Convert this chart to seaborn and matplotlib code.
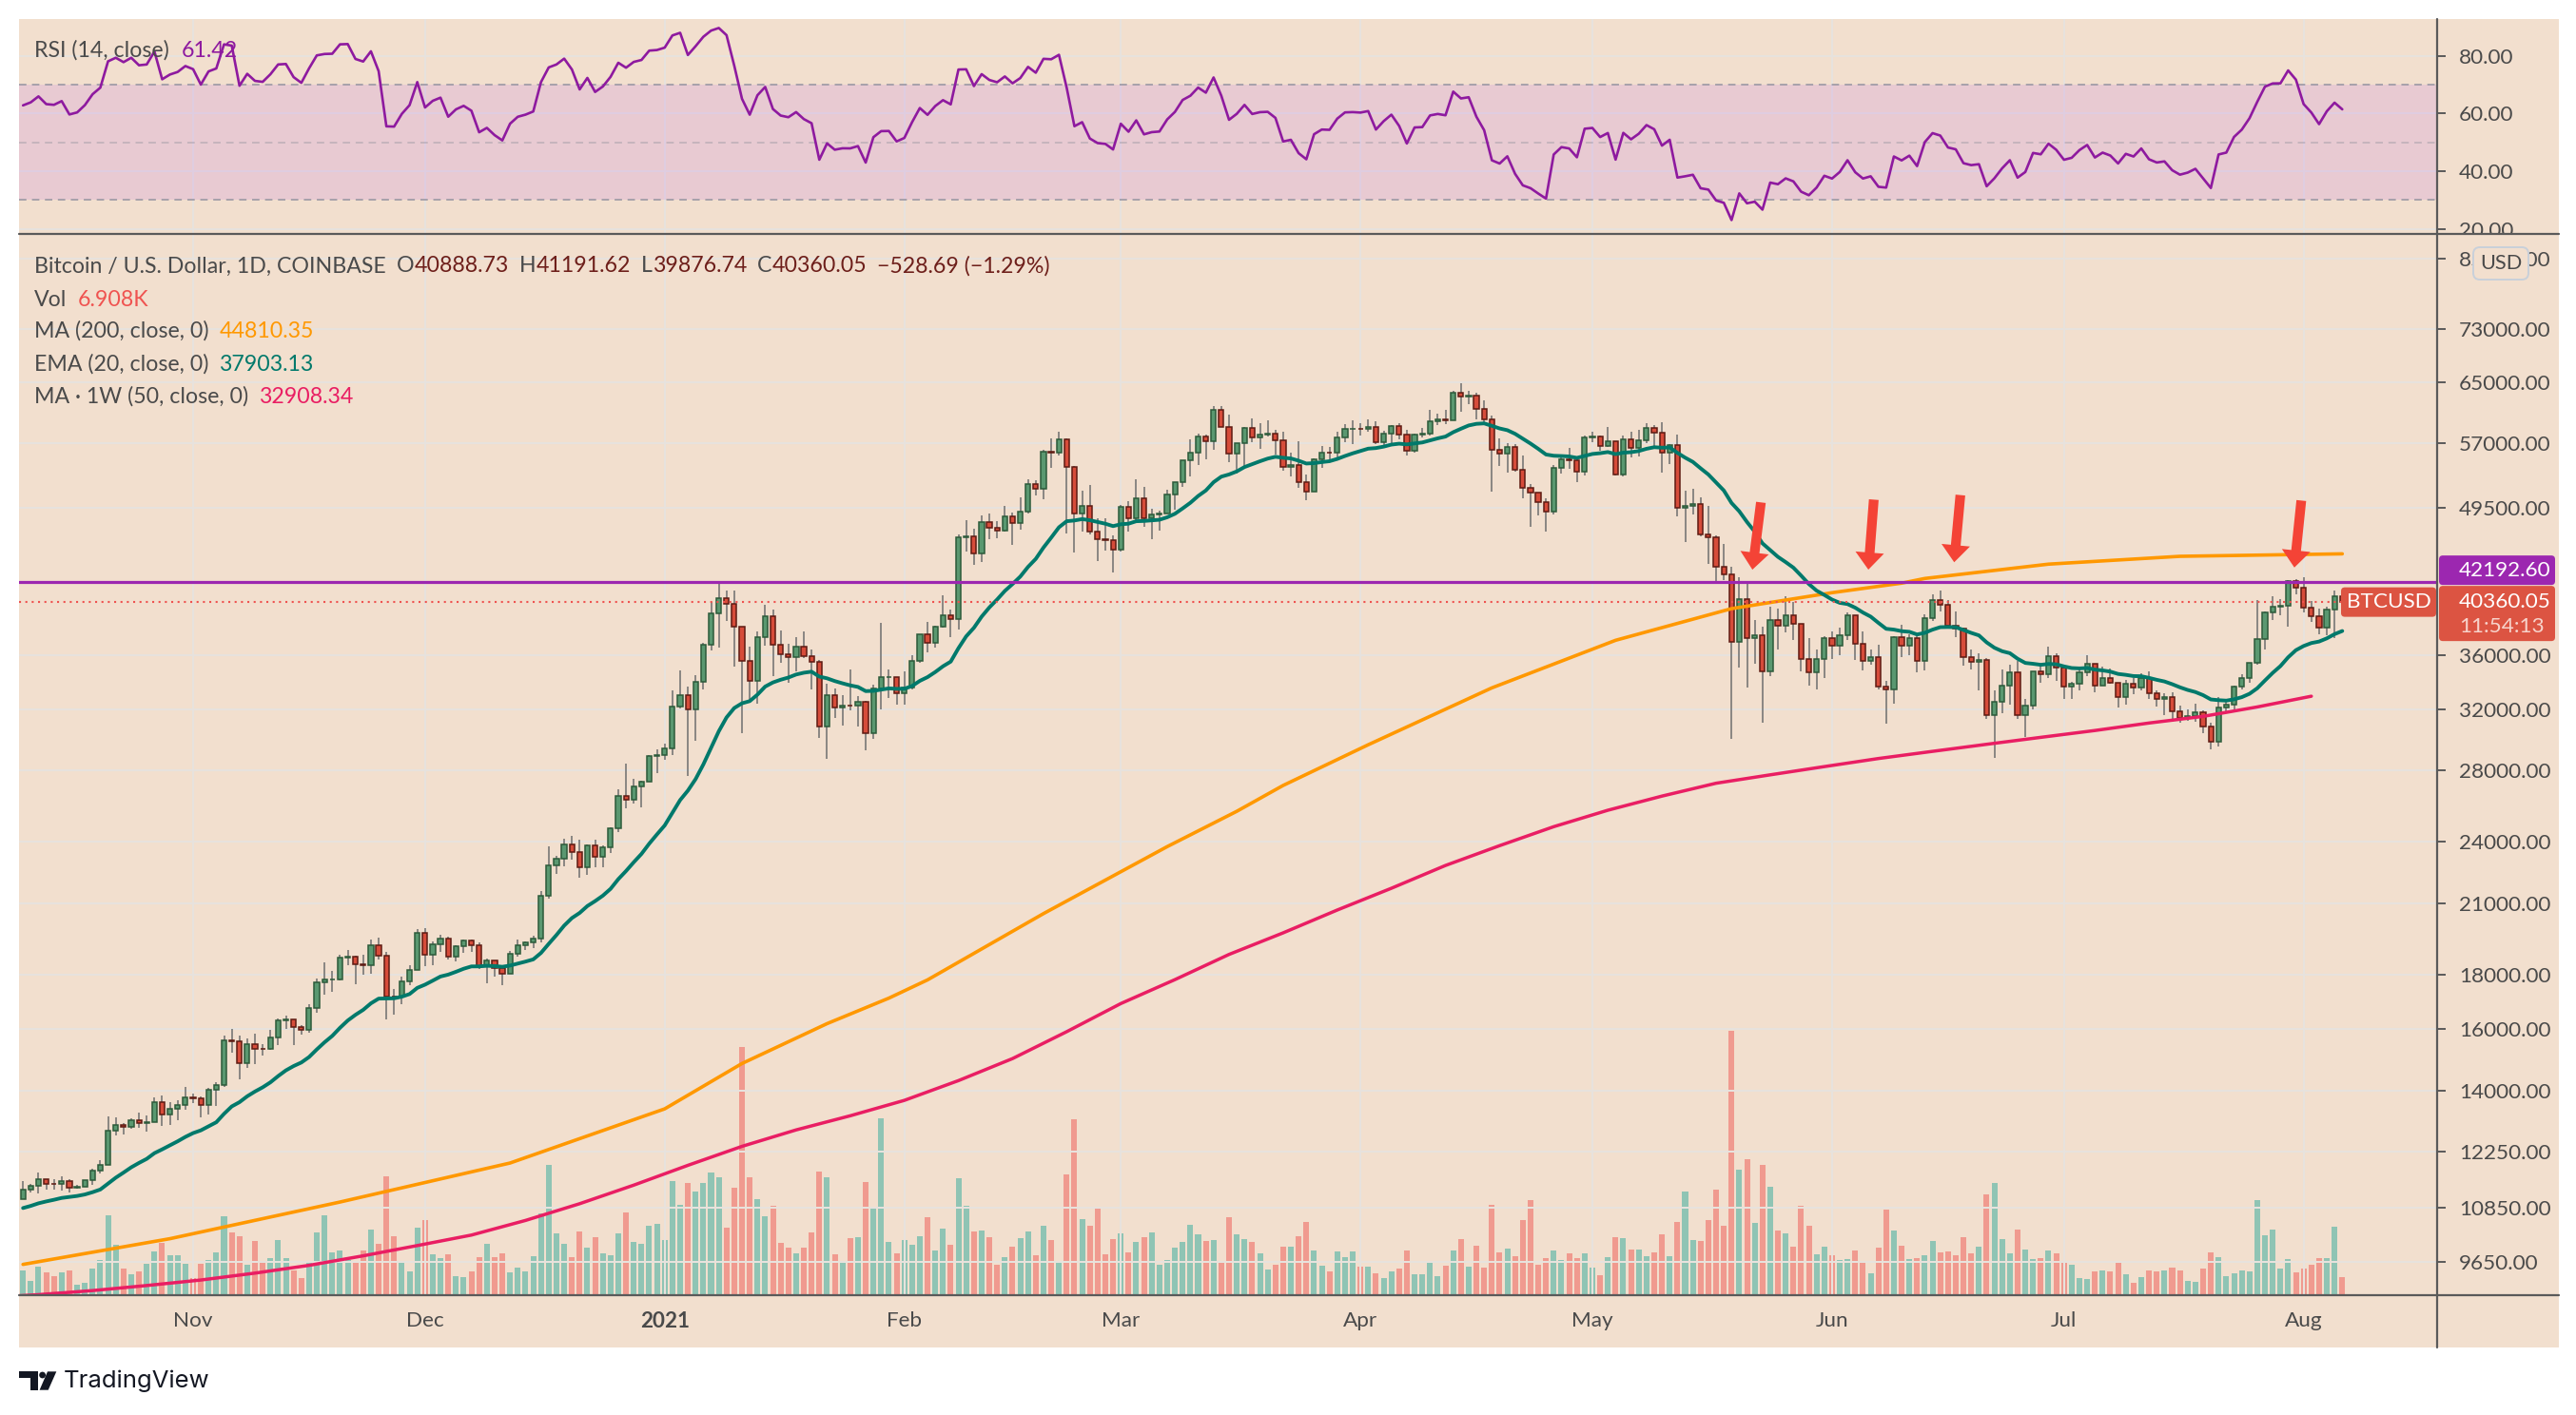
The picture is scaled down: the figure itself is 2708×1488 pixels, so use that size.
import numpy as np
import pandas as pd
import matplotlib
matplotlib.use("Agg")
import matplotlib.pyplot as plt
import seaborn as sns
from matplotlib.patches import Rectangle, FancyBboxPatch, Polygon, Circle
from matplotlib.lines import Line2D
from matplotlib.transforms import IdentityTransform
from matplotlib.ticker import NullLocator

# ------------------------------
# data (BTC/USD daily, Coinbase)
# ------------------------------
start_date = "2020-10-10"

# (open, high, low, close) per day
oct_2020 = [
    (11060, 11490, 11050, 11300), (11300, 11440, 11210, 11380), (11380, 11720, 11200, 11540),
    (11540, 11560, 11300, 11430), (11430, 11550, 11280, 11420), (11420, 11630, 11270, 11505),
    (11505, 11540, 11220, 11330), (11330, 11400, 11310, 11370), (11370, 11490, 11360, 11515),
    (11515, 11820, 11410, 11755), (11755, 12030, 11690, 11915), (11915, 13220, 11900, 12820),
    (12820, 13200, 12700, 12990), (12990, 13030, 12720, 12935), (12935, 13170, 12890, 13130),
    (13130, 13350, 12900, 13040), (13040, 13250, 12800, 13070), (13070, 13790, 13060, 13650),
    (13650, 13860, 12950, 13280), (13280, 13650, 12990, 13460), (13460, 13690, 13130, 13560),
    (13560, 14100, 13430, 13800),
]
nov_2020 = [
    (13800, 13890, 13620, 13760), (13760, 13820, 13200, 13560), (13560, 14070, 13300, 14030),
    (14030, 14250, 13530, 14150), (14150, 15770, 14100, 15590), (15590, 15980, 15200, 15570),
    (15570, 15770, 14350, 14840), (14840, 15660, 14710, 15480), (15480, 15840, 14830, 15330),
    (15330, 15470, 15100, 15310), (15310, 15950, 15280, 15700), (15700, 16350, 15460, 16290),
    (16290, 16480, 15980, 16320), (16320, 16330, 15430, 16070), (16070, 16130, 15810, 15960),
    (15960, 16880, 15880, 16730), (16730, 17860, 16560, 17680), (17680, 18480, 17220, 17800),
    (17800, 18150, 17350, 17820), (17820, 18800, 17760, 18680), (18680, 18970, 18360, 18710),
    (18710, 18750, 17620, 18420), (18420, 18780, 18000, 18370), (18370, 19420, 18020, 19160),
    (19160, 19490, 18580, 18740), (18740, 18920, 16330, 17150), (17150, 17460, 16500, 17140),
    (17140, 17900, 16880, 17730), (17730, 18350, 17570, 18180), (18180, 19870, 18180, 19700),
]
dec_2020 = [
    (19700, 19920, 18330, 18770), (18770, 19320, 18350, 19220), (19220, 19600, 18900, 19440),
    (19440, 19530, 18580, 18700), (18700, 19180, 18520, 19150), (19150, 19420, 18870, 19370),
    (19370, 19420, 18910, 19190), (19190, 19300, 18220, 18330), (18330, 18640, 17650, 18550),
    (18550, 18570, 17910, 18250), (18250, 18290, 17570, 18030), (18030, 18950, 18020, 18810),
    (18810, 19420, 18720, 19170), (19170, 19350, 19000, 19280), (19280, 19570, 19050, 19440),
    (19440, 21560, 19300, 21350), (21350, 23770, 21230, 22800), (22800, 23290, 22380, 23140),
    (23140, 24170, 22780, 23860), (23860, 24300, 23080, 23480), (23480, 24100, 22200, 22730),
    (22730, 23860, 22350, 23820), (23820, 24120, 22700, 23240), (23240, 23800, 22720, 23730),
    (23730, 24790, 23440, 24700), (24700, 26870, 24500, 26490), (26490, 28420, 25800, 26280),
    (26280, 27500, 26100, 27080), (27080, 27400, 25880, 27360), (27360, 28990, 27320, 28880),
    (28880, 29320, 27880, 28990),
]
jan_2021 = [
    (28990, 29680, 28690, 29410), (29410, 33300, 28950, 32200), (32200, 34810, 32020, 33000),
    (33000, 33620, 27700, 31990), (31990, 34450, 29900, 33950), (33950, 36940, 33400, 36800),
    (36800, 40370, 36350, 39370), (39370, 41950, 36570, 40670), (40670, 41380, 38720, 40240),
    (40240, 41350, 35110, 38240), (38240, 38270, 30400, 35550), (35550, 36620, 32530, 34010),
    (34010, 37850, 32400, 37390), (37390, 40100, 36720, 39150), (39150, 39750, 34400, 36770),
    (36770, 37950, 35400, 36010), (36010, 36860, 33850, 35820), (35820, 37430, 34720, 36630),
    (36630, 37850, 35750, 35900), (35900, 36420, 33400, 35470), (35470, 35600, 30070, 30830),
    (30830, 33830, 28750, 33000), (33000, 33460, 31390, 32080), (32080, 32960, 30860, 32260),
    (32260, 34880, 31940, 32250), (32250, 32920, 30840, 32510), (32510, 32560, 29240, 30400),
    (30400, 33740, 30000, 33450), (33450, 38550, 31950, 34280), (34280, 34890, 32800, 34300),
    (34300, 34330, 32280, 33110),
]
feb_2021 = [
    (33110, 34720, 32300, 33520), (33520, 35980, 33430, 35510), (35510, 37660, 35390, 37620),
    (37620, 38700, 36210, 36940), (36940, 38310, 36580, 38290), (38290, 40950, 38220, 39250),
    (39250, 39720, 37380, 38870), (38870, 46750, 38010, 46450), (46450, 48200, 45020, 46510),
    (46510, 47320, 43730, 44840), (44840, 48680, 44000, 47990), (47990, 48900, 46250, 47380),
    (47380, 48100, 46350, 47150), (47150, 49720, 47070, 48580), (48580, 49000, 45700, 47930),
    (47930, 50620, 47200, 49150), (49150, 52620, 48950, 52120), (52120, 52540, 50900, 51580),
    (51580, 56200, 50440, 55890), (55890, 57510, 54000, 55850), (55850, 58350, 55500, 57410),
    (57410, 57550, 46840, 54090), (54090, 54180, 44900, 48890), (48890, 51380, 47000, 49700),
    (49700, 52050, 46720, 47060), (47060, 48400, 44100, 46270), (46270, 48360, 45120, 46140),
    (46140, 46600, 43000, 45240),
]
mar_2021 = [
    (45240, 49800, 45070, 49610), (49610, 50200, 47050, 48380), (48380, 52650, 48150, 50540),
    (50540, 51800, 47500, 48370), (48370, 49450, 46300, 48760), (48760, 49200, 47080, 48870),
    (48870, 51450, 48870, 50970), (50970, 52400, 49300, 52390), (52390, 54900, 51850, 54890),
    (54890, 57400, 53030, 55850), (55850, 58150, 54300, 57800), (57800, 58050, 55050, 57230),
    (57230, 61800, 56100, 61190), (61190, 61700, 59000, 59000), (59000, 60650, 54700, 55640),
    (55640, 56950, 53300, 56910), (56910, 58980, 54200, 58930), (58930, 60100, 57050, 57650),
    (57650, 59500, 56300, 58030), (58030, 59900, 57850, 58100), (58100, 58650, 55550, 57350),
    (57350, 58450, 53700, 54080), (54080, 55850, 53000, 54340), (54340, 57200, 51700, 52300),
    (52300, 53250, 50300, 51300), (51300, 55100, 51300, 55030), (55030, 56600, 54000, 55820),
    (55820, 56550, 54700, 55780), (55780, 58400, 54900, 57630), (57630, 59400, 57050, 58730),
    (58730, 59800, 56900, 58780),
]
apr_2021 = [
    (58780, 59480, 57930, 58730), (58730, 60000, 58450, 58960), (58960, 59770, 56900, 57060),
    (57060, 58480, 56500, 58200), (58200, 59300, 56800, 59130), (59130, 59460, 57400, 57990),
    (57990, 58650, 55500, 56000), (56000, 58150, 55750, 58090), (58090, 58870, 57700, 58140),
    (58140, 61200, 57900, 59770), (59770, 60700, 59300, 59980), (59980, 61200, 59380, 59860),
    (59860, 63800, 59800, 63580), (63580, 64850, 61000, 62960), (62960, 63800, 62020, 63160),
    (63160, 63520, 60000, 61380), (61380, 62500, 59600, 60000), (60000, 60420, 51300, 56150),
    (56150, 57500, 54200, 55660), (55660, 57000, 53400, 56470), (56470, 56800, 53600, 53800),
    (53800, 55450, 50500, 51700), (51700, 52100, 47500, 51150), (51150, 51200, 48700, 50100),
    (50100, 50540, 47050, 49070), (49070, 54300, 48800, 54030), (54030, 55450, 53300, 55060),
    (55060, 56400, 53900, 54860), (54860, 55200, 52350, 53560), (53560, 57950, 53100, 57700),
]
may_2021 = [
    (57700, 58450, 57050, 57830), (57830, 57950, 56050, 56610), (56610, 58950, 56500, 57200),
    (57200, 57200, 53100, 53250), (53250, 57900, 52950, 57450), (57450, 58350, 55250, 56420),
    (56420, 58650, 55400, 57360), (57360, 59500, 56950, 58860), (58860, 59250, 56250, 58280),
    (58280, 59550, 53450, 55860), (55860, 56900, 54400, 56750), (56750, 58000, 48600, 49500),
    (49500, 51350, 46000, 49690), (49690, 51550, 48850, 49900), (49900, 50700, 46550, 46760),
    (46760, 49750, 43800, 46430), (46430, 46650, 42100, 43560), (43560, 45800, 42300, 42900),
    (42900, 43550, 30000, 37000), (37000, 42600, 35000, 40630), (40630, 42250, 33500, 37300),
    (37300, 38850, 35300, 37530), (37530, 38300, 31100, 34700), (34700, 39950, 34400, 38800),
    (38800, 39800, 36450, 38330), (38330, 40900, 37800, 39240), (39240, 40400, 37200, 38470),
    (38470, 38500, 34750, 35680), (35680, 37300, 33650, 34650), (34650, 36450, 33400, 35680),
    (35680, 37500, 34200, 37320),
]
jun_2021 = [
    (37320, 37900, 35700, 36690), (36690, 38200, 35950, 37570), (37570, 39450, 37200, 39190),
    (39190, 39250, 35600, 36850), (36850, 37900, 34800, 35520), (35520, 36450, 35250, 35800),
    (35800, 36800, 33400, 33580), (33580, 34050, 31000, 33400), (33400, 37500, 32400, 37390),
    (37390, 38400, 35800, 36690), (36690, 37650, 35950, 37340), (37340, 37450, 34650, 35550),
    (35550, 39300, 34800, 39020), (39020, 41050, 38750, 40520), (40520, 41350, 39550, 40160),
    (40160, 40500, 38120, 38350), (38350, 39550, 37400, 38070), (38070, 38200, 35150, 35820),
    (35820, 36450, 34850, 35490), (35490, 36150, 33350, 35600), (35600, 35750, 31300, 31600),
    (31600, 33300, 28800, 32510), (32510, 34850, 31700, 33680), (33680, 35250, 32300, 34660),
    (34660, 35500, 31300, 31600), (31600, 32700, 30150, 32270), (32270, 34700, 32000, 34700),
    (34700, 35250, 33900, 34490), (34490, 36650, 34250, 35900), (35900, 36100, 34000, 35040),
]
jul_2021 = [
    (35040, 35050, 32700, 33570), (33570, 33950, 32700, 33800), (33800, 34950, 33350, 34690),
    (34690, 35950, 34350, 35290), (35290, 35300, 33200, 33690), (33690, 35100, 33650, 34220),
    (34220, 34950, 33800, 33860), (33860, 33900, 32100, 32880), (32880, 34100, 32300, 33810),
    (33810, 34250, 33050, 33510), (33510, 34600, 33350, 34260), (34260, 34700, 32700, 33090),
    (33090, 33350, 32200, 32730), (32730, 33100, 31600, 32820), (32820, 33200, 31150, 31880),
    (31880, 32250, 31050, 31390), (31390, 31950, 31200, 31530), (31530, 32400, 31150, 31780),
    (31780, 31900, 30400, 30840), (30840, 31050, 29300, 29790), (29790, 32850, 29500, 32140),
    (32140, 32600, 31700, 32290), (32290, 33650, 31800, 33600), (33600, 34500, 33400, 34260),
    (34260, 35400, 33850, 35380), (35380, 40550, 35250, 37260), (37260, 39550, 36400, 39470),
    (39470, 40900, 38800, 39990), (39990, 40650, 39250, 40010), (40010, 42300, 38300, 42240),
    (42240, 42400, 41050, 41630),
]
aug_2021 = [
    (41630, 42600, 39450, 39850), (39850, 40450, 38700, 39170), (39170, 39800, 37650, 38200),
    (38200, 39950, 37550, 39740), (39740, 41350, 37350, 40890),
    (40888.73, 41191.62, 39876.74, 40360.05),
]

# daily volume, thousand BTC
vol_oct = [9.5, 5.4, 11.0, 8.7, 7.3, 8.7, 9.5, 3.9, 4.7, 10.2, 13.5, 31.1, 19.4, 10.2, 8.0,
           9.1, 12.1, 16.9, 20.2, 15.4, 15.4, 12.1]
vol_nov = [6.5, 12.1, 13.5, 16.5, 30.5, 24.3, 23.0, 11.9, 21.1, 13.2, 14.5, 21.5, 14.5, 9.5, 6.5,
           13.2, 24.3, 31.1, 16.5, 17.2, 13.5, 13.0, 17.2, 25.4, 20.0, 46.2, 22.8, 13.2, 9.2, 26.2]
vol_dec = [29.2, 15.8, 14.5, 15.8, 7.5, 7.0, 9.2, 14.7, 20.0, 14.7, 16.4, 8.9, 10.6, 9.2, 15.1,
           31.9, 50.7, 23.9, 20.0, 14.7, 24.7, 18.3, 22.6, 16.2, 15.5, 24.1, 32.2, 20.7, 20.0,
           26.8, 27.6]
vol_jan = [21.3, 44.3, 35.0, 43.5, 40.1, 43.5, 47.5, 46.0, 26.1, 41.6, 96.3, 45.7, 37.5, 30.5,
           34.6, 20.3, 18.3, 16.1, 18.3, 24.3, 47.9, 45.7, 15.8, 13.2, 22.0, 22.4, 43.8, 34.2,
           68.6, 20.6, 16.1]
vol_feb = [21.3, 19.4, 22.8, 30.2, 17.2, 25.7, 19.4, 45.3, 34.6, 24.6, 25.0, 22.4, 11.7, 14.6,
           18.7, 22.0, 24.6, 15.4, 26.8, 21.3, 13.2, 46.8, 68.2, 29.4, 26.8, 34.2, 15.8, 21.7]
vol_mar = [23.9, 16.5, 20.6, 22.4, 24.3, 11.7, 13.5, 18.3, 20.6, 27.2, 23.5, 20.9, 21.3, 13.2,
           30.2, 23.5, 21.7, 20.6, 16.1, 9.8, 11.7, 18.7, 18.7, 22.8, 28.3, 17.2, 11.3, 9.1,
           16.9, 14.6, 16.9]
vol_apr = [11.0, 11.0, 8.4, 6.5, 9.1, 10.2, 17.2, 8.0, 8.0, 12.4, 7.3, 11.3, 17.2, 21.7, 11.0,
           19.1, 10.6, 35.0, 16.5, 18.0, 15.0, 29.1, 36.8, 11.7, 14.3, 17.2, 13.5, 16.1, 14.3, 16.1]
vol_may = [10.6, 7.6, 14.6, 22.4, 22.0, 17.6, 17.6, 15.0, 16.5, 23.5, 15.0, 28.3, 40.1, 21.3,
           20.9, 29.1, 41.2, 26.8, 102.9, 48.6, 52.7, 27.9, 50.5, 42.0, 25.0, 23.9, 18.7, 34.6,
           26.8, 15.8, 18.7]
vol_jun = [15.4, 13.5, 13.9, 17.2, 13.2, 8.4, 18.3, 33.1, 25.0, 19.1, 13.9, 14.3, 15.4, 20.9,
           16.5, 16.9, 15.4, 22.4, 16.1, 18.7, 39.0, 43.5, 21.7, 16.1, 25.4, 17.6, 13.9, 14.3,
           17.2, 16.1]
vol_jul = [12.4, 11.7, 6.5, 6.3, 9.2, 9.6, 9.2, 13.3, 8.1, 4.8, 7.0, 9.6, 9.2, 9.6, 10.7, 9.6,
           5.5, 5.2, 10.3, 16.6, 14.8, 7.4, 8.5, 9.6, 9.2, 36.9, 23.3, 25.5, 10.3, 14.0, 8.9]
vol_aug = [10.3, 11.8, 14.4, 14.4, 26.6, 6.908]

# MA (200)
ma200_dates = ["2020-10-10", "2020-10-29", "2020-11-20", "2020-12-12", "2021-01-01",
               "2021-01-11", "2021-01-22", "2021-01-30", "2021-02-04", "2021-02-19",
               "2021-03-07", "2021-03-16", "2021-03-22", "2021-04-02", "2021-04-18",
               "2021-05-04", "2021-05-19", "2021-06-01", "2021-06-10", "2021-06-13",
               "2021-06-29", "2021-07-16", "2021-08-06"]
ma200_vals = [9600, 10150, 10990, 11960, 13450, 14840, 16180, 17100, 17790, 20540, 23750,
              25640, 27120, 29620, 33510, 37150, 39790, 41190, 42050, 42480, 43820, 44570,
              44810]

# MA 1W (50), one point per weekly bar
ma1w_first_week = "2020-10-05"
ma1w_vals = [8930, 8990, 9070, 9170, 9280, 9420, 9580, 9780, 10000, 10230, 10560, 10950,
             11400, 11900, 12400, 12850, 13250, 13700, 14300, 15000, 15900, 16900, 17800,
             18800, 19700, 20700, 21700, 22800, 23800, 24800, 25700, 26500, 27250, 27750,
             28250, 28750, 29200, 29650, 30100, 30550, 31050, 31500, 32150, 32908]

prev_close = 11060          # close of the day before the first candle
ema_seed = 10800            # EMA(20) level at the left edge
rsi_seed_gain, rsi_seed_loss = 125.0, 85.0

level_line = 42192.60
arrow_tip_x = [223.7, 238.7, 249.8, 293.8]
arrow_tail_x = [224.8, 239.4, 250.6, 294.7]
arrow_tip_y = [43300, 43300, 44000, 43500]
arrow_tail_y = [50100, 50400, 50900, 50300]

price_ticks = [9650, 10850, 12250, 14000, 16000, 18000, 21000, 24000, 28000, 32000, 36000,
               49500, 57000, 65000, 73000, 85000]
rsi_ticks = [20, 40, 60, 80]

# ------------------------------
# assemble
# ------------------------------
ohlc = np.array(oct_2020 + nov_2020 + dec_2020 + jan_2021 + feb_2021 + mar_2021 + apr_2021 +
                may_2021 + jun_2021 + jul_2021 + aug_2021, dtype=float)
vols = np.array(vol_oct + vol_nov + vol_dec + vol_jan + vol_feb + vol_mar + vol_apr + vol_may +
                vol_jun + vol_jul + vol_aug)
opens, highs, lows, closes = ohlc.T
n = len(closes)
t0 = pd.Timestamp(start_date)
dates = pd.date_range(t0, periods=n, freq="D")
days = np.arange(n)
up = closes >= opens

# indicators, as the chart computes them
ema = []
e = ema_seed
for c in closes:
    e = e + 2.0 / 21.0 * (c - e)
    ema.append(e)
ema = np.array(ema)

rsi = []
ag, al, pc = rsi_seed_gain, rsi_seed_loss, prev_close
for c in closes:
    d = c - pc
    ag = (ag * 13 + max(d, 0)) / 14
    al = (al * 13 + max(-d, 0)) / 14
    rsi.append(100 - 100 / (1 + ag / al))
    pc = c
rsi = np.array(rsi)

ma200_x = np.array([(pd.Timestamp(d) - t0).days for d in ma200_dates])
ma1w_x = (pd.Timestamp(ma1w_first_week) - t0).days + 7 * np.arange(len(ma1w_vals))

month_starts = [d for d in dates if d.day == 1]
month_x = [(d - t0).days for d in month_starts]
month_lbl = ["2021" if d.month == 1 else d.strftime("%b") for d in month_starts]

# ------------------------------
# style
# ------------------------------
sns.set_theme(style="white")
plt.rcParams["font.family"] = ["Lato", "DejaVu Sans"]

W, H = 2708, 1488
BG = "#f2dfce"
GRID = "#e7e2dd"
AXC = "#5a5a5a"
TXT = "#4a4a4a"
UPF, UPE = "#5a9870", "#2c5a3a"
DNF, DNE = "#d64c3a", "#5e1a12"
WICK = "#6e6e6e"
EMA_C, MA_C, MAW_C = "#00796b", "#ff9800", "#e91e63"
RSI_C = "#8e1a9f"
PURPLE = "#9c27b0"
RED_LBL = "#dc5442"
ARROW_C = "#f44336"
FS = 16.2       # price scale / time scale
LFS = 16.7      # pane legends

PX = IdentityTransform()


def P(x, y):
    return (x, H - y)


fig = plt.figure(figsize=(W / 100, H / 100), dpi=100)
fig.patch.set_facecolor("white")
fig.add_artist(Rectangle(P(20, 1417), 2670, 1397, transform=PX, fc=BG, ec="none", zorder=-10))

L, R, TOP, SEP, BOT = 20, 2562, 20, 246, 1362
ax_rsi = fig.add_axes([L / W, 1 - 245 / H, (R - L) / W, (245 - TOP) / H])
ax_p = fig.add_axes([L / W, 1 - BOT / H, (R - L) / W, (BOT - 247) / H])
ax_v = ax_p.twinx()
ax_p.set_zorder(2)
ax_v.set_zorder(1)
for a in (ax_rsi, ax_p, ax_v):
    a.patch.set_visible(False)
    for s in a.spines.values():
        s.set_visible(False)

xlim = ((L - 24.2) / 8.127, (R - 24.2) / 8.127)

# ------------------------------
# volume
# ------------------------------
ax_v.bar(days, vols, width=0.74, color=np.where(up, "#8fc4b4", "#f09a8f"), linewidth=0)
ax_v.set_ylim(0, 412)
ax_v.set_xlim(*xlim)
ax_v.axis("off")

# ------------------------------
# price pane
# ------------------------------
ax_p.set_yscale("log")
ax_p.set_axisbelow(True)
ax_p.grid(True, color=GRID, linewidth=1.45)
ax_p.vlines(days, lows, highs, color=WICK, linewidth=1.1, zorder=2)
ax_p.bar(days, np.abs(closes - opens), bottom=np.minimum(opens, closes), width=0.64,
         color=np.where(up, UPF, DNF), edgecolor=np.where(up, UPE, DNE), linewidth=1.1, zorder=3)

sns.lineplot(x=ma200_x, y=ma200_vals, ax=ax_p, color=MA_C, linewidth=2.6, zorder=4, legend=False)
sns.lineplot(x=ma1w_x, y=ma1w_vals, ax=ax_p, color=MAW_C, linewidth=2.5, zorder=4, legend=False)
sns.lineplot(x=days, y=ema, ax=ax_p, color=EMA_C, linewidth=2.8, zorder=4, legend=False)

ax_p.axhline(level_line, color=PURPLE, linewidth=2.3, zorder=5)
ax_p.axhline(closes[-1], color="#ef5350", linewidth=1.5, linestyle=(0, (1, 2.2)), zorder=5)

for tx, ty, sx, sy in zip(arrow_tip_x, arrow_tip_y, arrow_tail_x, arrow_tail_y):
    ax_p.annotate("", xy=(tx, ty), xytext=(sx, sy),
                  arrowprops=dict(arrowstyle="simple,head_length=0.6,head_width=1.0,tail_width=0.34",
                                  mutation_scale=21.6, color=ARROW_C, shrinkA=0, shrinkB=0,
                                  linewidth=0), zorder=6)

ax_p.set_xlim(*xlim)
ax_p.set_ylim(8980, 89480)
ax_p.set_yticks(price_ticks)
ax_p.set_yticklabels([f"{v:.2f}" for v in price_ticks])
ax_p.yaxis.set_minor_locator(NullLocator())
ax_p.yaxis.tick_right()
ax_p.set_xticks(month_x)
ax_p.set_xticklabels(month_lbl)
ax_p.tick_params(axis="y", length=6.5, width=1.4, color=AXC, pad=10, labelsize=FS, labelcolor=TXT)
ax_p.tick_params(axis="x", length=6.5, width=1.4, color=AXC, pad=6, labelsize=FS, labelcolor=TXT)
for lbl in ax_p.get_xticklabels():
    if lbl.get_text() == "2021":
        lbl.set_fontweight("bold")
ax_p.set_xlabel("")
ax_p.set_ylabel("")

# ------------------------------
# RSI pane
# ------------------------------
ax_rsi.set_axisbelow(True)
ax_rsi.grid(True, color=GRID, linewidth=1.45)
ax_rsi.axhspan(30, 70, color="#9915ff", alpha=0.1, linewidth=0, zorder=1)
for lv, al_ in ((70, 0.85), (50, 0.45), (30, 0.85)):
    ax_rsi.axhline(lv, color="#9b98a3", alpha=al_, linewidth=1.4, dashes=(4, 3), zorder=2)
sns.lineplot(x=days, y=rsi, ax=ax_rsi, color=RSI_C, linewidth=1.9, zorder=3, legend=False)
ax_rsi.set_xlim(*xlim)
ax_rsi.set_ylim(18.6, 92.7)
ax_rsi.set_yticks(rsi_ticks)
ax_rsi.set_yticklabels([f"{v:.2f}" for v in rsi_ticks])
ax_rsi.yaxis.tick_right()
ax_rsi.set_xticks(month_x)
ax_rsi.tick_params(axis="x", length=0, labelbottom=False)
ax_rsi.tick_params(axis="y", length=6.5, width=1.4, color=AXC, pad=10, labelsize=FS, labelcolor=TXT)
ax_rsi.set_xlabel("")
ax_rsi.set_ylabel("")

# frame lines of the two panes and the scale
fig.add_artist(Rectangle(P(2563.5, 262), 126, 16, transform=PX, fc=BG, ec="none", zorder=2))
for xs, ys in (((L, 2690), (SEP, SEP)), ((L, 2690), (BOT, BOT)), ((R, R), (TOP, 1417))):
    fig.add_artist(Line2D([xs[0], xs[1]], [H - ys[0], H - ys[1]], transform=PX,
                          color=AXC, linewidth=1.6, zorder=3))

# ------------------------------
# labels on the price scale
# ------------------------------
def price_px(p):
    return H - ax_p.transData.transform((0, p))[1]


yc = price_px(closes[-1])
red_top = yc - 17
fig.add_artist(FancyBboxPatch(P(2564, red_top + 58), 122, 58, transform=PX,
                              boxstyle="round,pad=0,rounding_size=4", fc=RED_LBL, ec="none", zorder=4))
fig.add_artist(FancyBboxPatch(P(2564, red_top - 1), 122, 31, transform=PX,
                              boxstyle="round,pad=0,rounding_size=4", fc=PURPLE, ec="none", zorder=4))
fig.add_artist(FancyBboxPatch(P(2461, yc + 15.5), 100, 31, transform=PX,
                              boxstyle="round,pad=0,rounding_size=4", fc=RED_LBL, ec="none", zorder=4))
fig.text(*P(2585, red_top - 16.5), f"{level_line:.2f}", transform=PX, color="white",
         fontsize=FS, va="center", ha="left", zorder=5)
fig.text(*P(2585, yc), f"{closes[-1]:.2f}", transform=PX, color="white",
         fontsize=FS, va="center", ha="left", zorder=5)
fig.text(*P(2585, yc + 26), "11:54:13", transform=PX, color="#f7d3cb",
         fontsize=FS, va="center", ha="left", zorder=5)
fig.text(*P(2511, yc), "BTCUSD", transform=PX, color="white",
         fontsize=FS, va="center", ha="center", zorder=5)

fig.add_artist(FancyBboxPatch(P(2600, 294), 58, 34, transform=PX,
                              boxstyle="round,pad=0,rounding_size=7", fc=BG, ec="#c8d0da",
                              linewidth=1.4, zorder=4))
fig.text(*P(2629, 277), "USD", transform=PX, color=TXT, fontsize=FS - 0.5,
         va="center", ha="center", zorder=5)

# ------------------------------
# legends
# ------------------------------
def chain(ax, x, y, parts, size=LFS):
    t = ax.annotate(parts[0][0], xy=P(x, y), xycoords="figure pixels", va="center",
                    ha="left", color=parts[0][1], fontsize=size, annotation_clip=False)
    for s, c, gap in parts[1:]:
        t = ax.annotate(s, xy=(1, 0), xycoords=t, xytext=(gap, 0), textcoords="offset points",
                        va="bottom", ha="left", color=c, fontsize=size, annotation_clip=False)


DR = "#6e1f1a"
chain(ax_rsi, 36, 53, [("RSI (14, close)", TXT), ("61.42", RSI_C, 9)])
chain(ax_p, 36, 280, [("Bitcoin / U.S. Dollar, 1D, COINBASE", TXT),
                      ("O", TXT, 8), ("40888.73", DR, 0),
                      ("H", TXT, 8), ("41191.62", DR, 0),
                      ("L", TXT, 8), ("39876.74", DR, 0),
                      ("C", TXT, 8), ("40360.05", DR, 0),
                      ("\u2212528.69 (\u22121.29%)", DR, 8)])
chain(ax_p, 36, 315, [("Vol", TXT), ("6.908K", "#ef5350", 8)])
chain(ax_p, 36, 348, [("MA (200, close, 0)", TXT), ("44810.35", MA_C, 8)])
chain(ax_p, 36, 383, [("EMA (20, close, 0)", TXT), ("37903.13", EMA_C, 8)])
chain(ax_p, 36, 417, [("MA \u00b7 1W (50, close, 0)", TXT), ("32908.34", MAW_C, 8)])

# ------------------------------
# TradingView mark
# ------------------------------
LOGO = "#131722"
fig.add_artist(Rectangle(P(20, 1449), 20, 6.7, transform=PX, fc=LOGO, ec="none"))
fig.add_artist(Rectangle(P(31.7, 1461.7), 8.3, 19.4, transform=PX, fc=LOGO, ec="none"))
fig.add_artist(Circle(P(44.6, 1446), 3.4, transform=PX, fc=LOGO, ec="none"))
fig.add_artist(Polygon([P(50, 1442.3), P(59.3, 1442.3), P(50.7, 1461.7), P(41.6, 1461.7)],
                       closed=True, transform=PX, fc=LOGO, ec="none"))
fig.text(*P(67, 1452), "TradingView", transform=PX, color=LOGO, fontsize=18.5,
         va="center", ha="left", family=["Inter", "Lato", "DejaVu Sans"])

fig.savefig("out.png", dpi=100, facecolor="white")
